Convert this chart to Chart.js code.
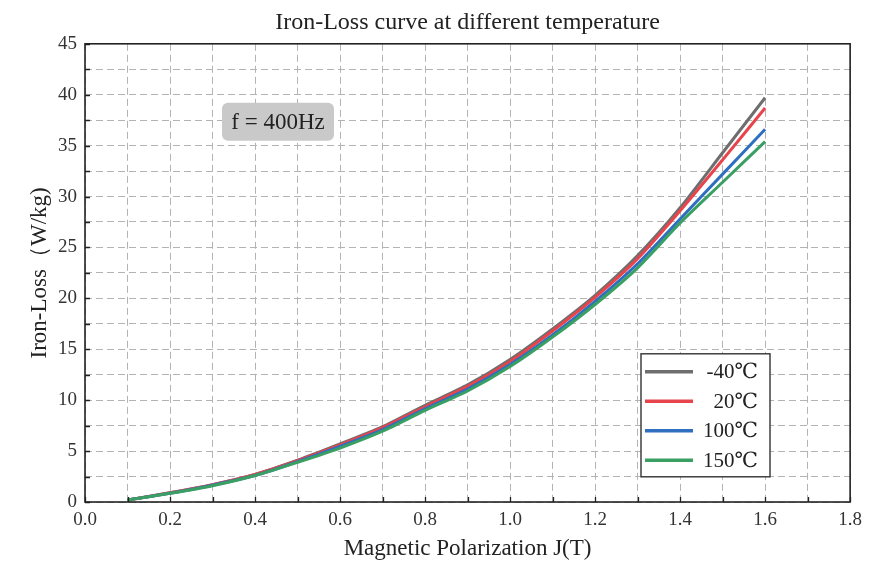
<!DOCTYPE html>
<html>
<head>
<meta charset="utf-8">
<script src="https://cdn.jsdelivr.net/npm/chart.js@4.4.1/dist/chart.umd.min.js"></script>
<style>
  html, body { margin: 0; padding: 0; background: #fff; }
  #wrap { width: 869px; height: 563px; }
</style>
</head>
<body>
<div id="wrap"><canvas id="c"></canvas></div>
<script>
// values
const polarization = [0.1, 0.2, 0.3, 0.4, 0.5, 0.6, 0.7, 0.8, 0.9, 1.0, 1.1, 1.2, 1.3, 1.4, 1.5, 1.6];
const lossMinus40 = [0.2, 0.9, 1.7, 2.7, 4.1, 5.7, 7.4, 9.5, 11.5, 14.0, 17.0, 20.3, 24.2, 28.9, 34.3, 39.7];
const loss20      = [0.2, 0.9, 1.7, 2.7, 4.05, 5.6, 7.3, 9.35, 11.35, 13.8, 16.8, 20.1, 23.9, 28.6, 33.6, 38.7];
const loss100     = [0.2, 0.85, 1.65, 2.6, 3.95, 5.45, 7.1, 9.15, 11.1, 13.5, 16.4, 19.7, 23.4, 27.8, 32.2, 36.6];
const loss150     = [0.2, 0.85, 1.6, 2.6, 3.9, 5.3, 6.95, 9.0, 10.9, 13.3, 16.2, 19.4, 23.0, 27.4, 31.4, 35.4];
const seriesNames = ["-40℃", " 20℃", "100℃", "150℃"];
const seriesColors = ["#6e6e6e", "#e8444c", "#2e6fc0", "#3a9f63"];
const xTickLabels = ["0.0", "0.2", "0.4", "0.6", "0.8", "1.0", "1.2", "1.4", "1.6", "1.8"];
const yTickLabels = ["0", "5", "10", "15", "20", "25", "30", "35", "40", "45"];

const SERIF = "'Liberation Serif', 'DejaVu Serif', serif";
const seriesValues = [lossMinus40, loss20, loss100, loss150];

// inward tick marks, frame, note box and legend
const decorPlugin = {
    id: "decor",
    afterDraw(chart) {
        const { ctx, chartArea: a, scales } = chart;
        ctx.save();
        ctx.strokeStyle = "#222";
        ctx.lineWidth = 1.3;
        ctx.beginPath();
        scales.x.ticks.forEach((t) => {
            const px = Math.round(scales.x.getPixelForValue(t.value)) + 0.5;
            ctx.moveTo(px, a.bottom);
            ctx.lineTo(px, a.bottom - 5);
        });
        scales.y.ticks.forEach((t) => {
            const py = Math.round(scales.y.getPixelForValue(t.value)) + 0.5;
            ctx.moveTo(a.left, py);
            ctx.lineTo(a.left + 5, py);
        });
        ctx.stroke();
        ctx.lineWidth = 1.6;
        ctx.strokeRect(a.left, a.top, a.right - a.left, a.bottom - a.top);

        // f = 400Hz note
        const nx = a.left + 137, ny = a.top + 59, nw = 112, nh = 38;
        ctx.fillStyle = "#c9c9c9";
        ctx.beginPath();
        ctx.roundRect(nx, ny, nw, nh, 6);
        ctx.fill();
        ctx.fillStyle = "#222";
        ctx.font = "23px " + SERIF;
        ctx.textAlign = "center";
        ctx.textBaseline = "middle";
        ctx.fillText("f = 400Hz", nx + nw / 2, ny + nh / 2 + 1);

        // legend
        const lx = a.left + 556, ly = a.top + 310, lw = 129, lh = 123;
        ctx.fillStyle = "#fff";
        ctx.fillRect(lx, ly, lw, lh);
        ctx.strokeStyle = "#333";
        ctx.lineWidth = 1.4;
        ctx.strokeRect(lx, ly, lw, lh);
        ctx.font = "21px " + SERIF;
        ctx.textAlign = "right";
        chart.data.datasets.forEach((ds, i) => {
            const yy = ly + 18 + i * 29.5;
            ctx.strokeStyle = ds.borderColor;
            ctx.lineWidth = 3.5;
            ctx.beginPath();
            ctx.moveTo(lx + 4, yy);
            ctx.lineTo(lx + 52, yy);
            ctx.stroke();
            ctx.fillStyle = "#222";
            ctx.fillText(ds.label, lx + 117, yy + 1);
        });
        ctx.restore();
    },
};

const datasets = seriesValues.map((vals, i) => ({
    label: seriesNames[i],
    data: polarization.map((x, k) => ({ x: x, y: vals[k] })),
    borderColor: seriesColors[i],
    backgroundColor: seriesColors[i],
    borderWidth: 3,
    pointRadius: 0,
    tension: 0.25,
    fill: false,
    order: seriesValues.length - i,
}));

const gridStyle = {
    color: "#b3b3b3",
    lineWidth: 1,
    drawTicks: false,
};

new Chart(document.getElementById("c"), {
    type: "line",
    data: { datasets: datasets },
    options: {
        responsive: true,
        maintainAspectRatio: false,
        animation: false,
        layout: { padding: { top: 0, right: 13, bottom: 0, left: 0 } },
        plugins: {
            legend: { display: false },
            tooltip: { enabled: false },
            title: {
                display: true,
                fullSize: false,
                text: "Iron-Loss curve at different temperature",
                color: "#222",
                font: { family: SERIF, size: 24, weight: "normal" },
                padding: { top: 8, bottom: 7 },
            },
        },
        scales: {
            x: {
                type: "linear",
                min: 0,
                max: 1.8,
                grid: gridStyle,
                border: { display: false, dash: [7, 4] },
                afterFit: (s) => { s.height = 61; },
                ticks: {
                    stepSize: 0.1,
                    autoSkip: false,
                    maxRotation: 0,
                    padding: 7,
                    color: "#333",
                    font: { family: SERIF, size: 19 },
                    callback: (v) => {
                        const k = Math.round(v * 10);
                        return k % 2 === 0 ? xTickLabels[k / 2] : "";
                    },
                },
                title: {
                    display: true,
                    text: "Magnetic Polarization J(T)",
                    color: "#222",
                    font: { family: SERIF, size: 23 },
                    padding: { top: 0, bottom: 0 },
                },
            },
            y: {
                type: "linear",
                min: 0,
                max: 45,
                grid: gridStyle,
                border: { display: false, dash: [7, 4] },
                afterFit: (s) => { s.width = 85; },
                ticks: {
                    stepSize: 2.5,
                    autoSkip: false,
                    padding: 8,
                    color: "#333",
                    font: { family: SERIF, size: 19 },
                    callback: (v) => {
                        const k = Math.round(v / 2.5);
                        return k % 2 === 0 ? yTickLabels[k / 2] : "";
                    },
                },
                title: {
                    display: true,
                    text: "Iron-Loss（W/kg)",
                    color: "#222",
                    font: { family: SERIF, size: 23 },
                    padding: { top: 26, bottom: 0 },
                },
            },
        },
    },
    plugins: [decorPlugin],
});
</script>
</body>
</html>
